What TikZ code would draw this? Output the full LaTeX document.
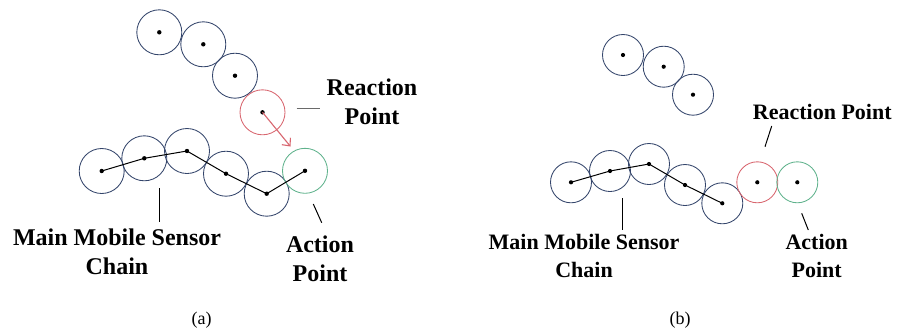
\documentclass[tikz,border=0pt]{standalone}
\usepackage{fontspec}
\setmainfont{Liberation Serif}[BoldFont={Liberation Serif Bold}]
\usetikzlibrary{arrows.meta}
\definecolor{navy}{HTML}{34456B}
\definecolor{redc}{HTML}{D8666F}
\definecolor{greenc}{HTML}{5FB28C}
\definecolor{leadgray}{HTML}{6A6A6A}
\tikzset{
  sensA/.style={circle, draw=navy, line width=0.85pt, minimum size=45pt, inner sep=0pt},
  sensB/.style={circle, draw=navy, line width=0.85pt, minimum size=41pt, inner sep=0pt},
  dot/.style={fill=black},
  chainline/.style={draw=black, line width=1pt},
  leader/.style={draw=black, line width=1pt},
  lblA/.style={font=\bfseries\fontsize{24}{29}\selectfont, align=center, inner sep=0pt},
  lblB/.style={font=\bfseries\fontsize{22}{28}\selectfont, align=center, inner sep=0pt},
  capt/.style={font=\fontsize{18}{20}\selectfont, inner sep=0pt}
}
\begin{document}
\begin{tikzpicture}[x=1pt,y=-1pt]
\useasboundingbox (0,0) rectangle (899,335);
% ---------- panel (a) ----------
\node[sensA] (at1) at (159.3,32.3) {};
\node[sensA] (at2) at (203.3,44.3) {};
\node[sensA] (at3) at (235,75.7) {};
\node[sensA, draw=redc] (ared) at (262.5,112.3) {};
\node[sensA] (ac1) at (101.7,171) {};
\node[sensA] (ac2) at (144.3,158.3) {};
\node[sensA] (ac3) at (187,151) {};
\node[sensA] (ac4) at (226,173.7) {};
\node[sensA] (ac5) at (266.7,193.7) {};
\node[sensA, draw=greenc] (agreen) at (305,170.8) {};
\draw[chainline] (ac1.center) -- (ac2.center) -- (ac3.center) -- (ac4.center) -- (ac5.center) -- (agreen.center);
\foreach \n in {at1,at2,at3,ared,ac1,ac2,ac3,ac4,ac5,agreen}{\fill[dot] (\n.center) circle (2.2pt);}
\coordinate (aarrow) at (290.5,146.5);
\draw[redc, line width=1.1pt, -{Straight Barb[length=6pt,width=11pt]}] (ared.center) -- (aarrow);
\node[lblA] (areact) at (372,102) {Reaction\\Point};
\coordinate (arl1) at (296.7,108.3);
\coordinate (arl2) at (320,108.3);
\draw[leadgray, line width=1.4pt] (arl1) -- (arl2);
\node[lblA] (amain) at (117,251.5) {Main Mobile Sensor\\Chain};
\coordinate (aml1) at (159.3,188);
\coordinate (aml2) at (159.3,221.7);
\draw[leader] (aml1) -- (aml2);
\node[lblA] (aact) at (320,259) {Action\\Point};
\coordinate (aal1) at (313.3,204);
\coordinate (aal2) at (321.7,222.7);
\draw[leader] (aal1) -- (aal2);
\node[capt] (capa) at (201.7,320) {(a)};
% ---------- panel (b) ----------
\node[sensB] (bt1) at (623,55) {};
\node[sensB] (bt2) at (663.7,66.7) {};
\node[sensB] (bt3) at (693,94.7) {};
\node[sensB] (bc1) at (571,182.3) {};
\node[sensB] (bc2) at (610,171) {};
\node[sensB] (bc3) at (649,164) {};
\node[sensB] (bc4) at (685,185) {};
\node[sensB] (bc5) at (722.3,203.3) {};
\node[sensB, draw=redc] (bred) at (757.3,182.3) {};
\node[sensB, draw=greenc] (bgreen) at (797.3,182.3) {};
\draw[chainline] (bc1.center) -- (bc2.center) -- (bc3.center) -- (bc4.center) -- (bc5.center);
\foreach \n in {bt1,bt2,bt3,bc1,bc2,bc3,bc4,bc5,bred,bgreen}{\fill[dot] (\n.center) circle (2.1pt);}
\node[lblB] (breact) at (822.3,112.3) {Reaction Point};
\coordinate (brl1) at (771.7,126);
\coordinate (brl2) at (765,146.7);
\draw[leader] (brl1) -- (brl2);
\node[lblB] (bmain) at (584,256) {Main Mobile Sensor\\Chain};
\coordinate (bml1) at (622.7,198.3);
\coordinate (bml2) at (622.7,230);
\draw[leader] (bml1) -- (bml2);
\node[lblB] (bact) at (816.7,255.5) {Action\\Point};
\coordinate (bal1) at (801.7,213.3);
\coordinate (bal2) at (808.3,230);
\draw[leader] (bal1) -- (bal2);
\node[capt] (capb) at (680,320) {(b)};
\end{tikzpicture}
\end{document}
